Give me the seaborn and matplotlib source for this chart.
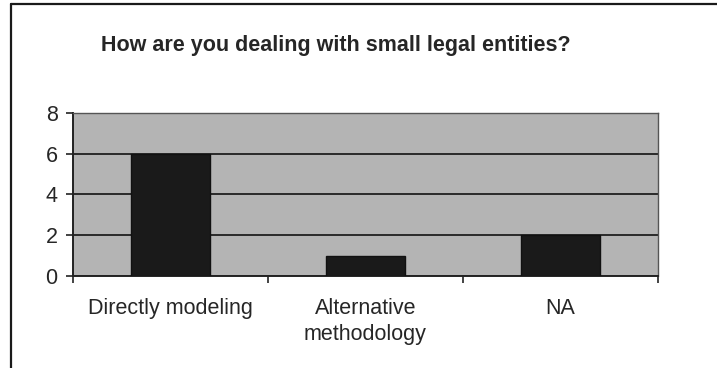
import matplotlib
matplotlib.use("Agg")
import matplotlib.pyplot as plt
import matplotlib.lines as mlines
import seaborn as sns
import pandas as pd

categories = ["Directly modeling", "Alternative\nmethodology", "NA"]
counts = [6, 1, 2]
y_ticks = [0, 2, 4, 6, 8]
title = "How are you dealing with small legal entities?"

sns.set_style("white")
plt.rcParams["font.family"] = ["Liberation Sans", "DejaVu Sans"]

df = pd.DataFrame({"approach": categories, "count": counts})

fig = plt.figure(figsize=(7.17, 3.68), dpi=100)
fig.patch.set_facecolor("white")
ax = fig.add_axes([0.1018, 0.25, 0.8159, 0.443])
ax.set_facecolor("#b4b4b4")

sns.barplot(data=df, x="approach", y="count", color="#1a1a1a",
            saturation=1, width=0.41, edgecolor="#111111", linewidth=1.0,
            ax=ax, zorder=3)

ax.set_xlim(-0.5, 2.5)
ax.set_ylim(0, 8)
ax.set_yticks(y_ticks)
ax.set_yticklabels([str(v) for v in y_ticks], fontsize=15.5)
ax.yaxis.grid(True, color="#2a2a2a", linewidth=1.4, zorder=1)
ax.set_axisbelow(True)

# category labels centred on bars, tick marks between categories
ax.set_xticks([-0.5, 0.5, 1.5, 2.5])
ax.set_xticklabels([])
ax.set_xticks([0, 1, 2], minor=True)
ax.set_xticklabels(categories, minor=True, fontsize=15.5, linespacing=1.3)
ax.tick_params(axis="x", which="minor", length=0, pad=16)
ax.tick_params(axis="x", which="major", length=5, width=1.2, color="#222222",
               direction="out", bottom=True)
ax.tick_params(axis="y", length=5, width=1.2, color="#222222",
               direction="out", left=True, pad=6)
ax.set_xlabel("")
ax.set_ylabel("")

for side in ["left", "bottom"]:
    ax.spines[side].set_color("#222222")
    ax.spines[side].set_linewidth(1.4)
for side in ["top", "right"]:
    ax.spines[side].set_visible(True)
    ax.spines[side].set_color("#555555")
    ax.spines[side].set_linewidth(1.0)

fig.text(0.469, 0.875, title, ha="center", va="center",
         fontsize=15.5, fontweight="bold")

# outer frame (top and left edges)
fig.add_artist(mlines.Line2D([11 / 717, 1.0], [1 - 4 / 368, 1 - 4 / 368],
                             color="#1a1a1a", linewidth=1.6,
                             transform=fig.transFigure))
fig.add_artist(mlines.Line2D([11 / 717, 11 / 717], [0, 1 - 4 / 368],
                             color="#1a1a1a", linewidth=1.6,
                             transform=fig.transFigure))

fig.savefig("out.png", dpi=100, facecolor="white")
